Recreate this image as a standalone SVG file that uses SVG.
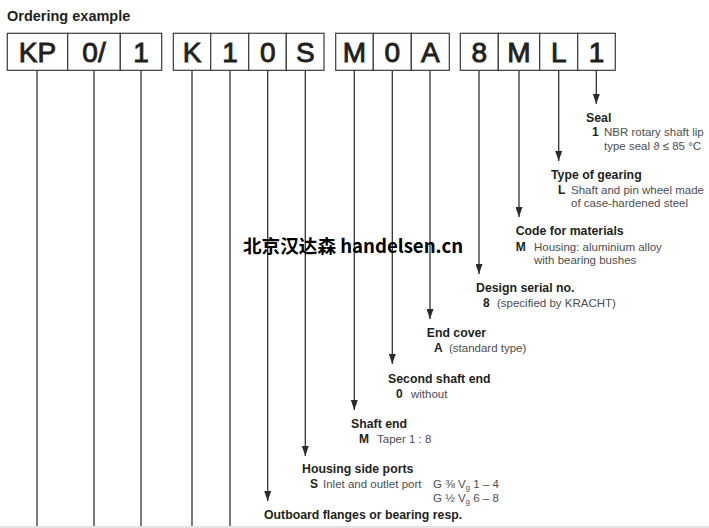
<svg xmlns="http://www.w3.org/2000/svg" width="709" height="528" viewBox="0 0 709 528">
<defs>
<marker id="arr" viewBox="0 0 10 7" refX="10" refY="3.5" markerWidth="10" markerHeight="7" markerUnits="userSpaceOnUse" orient="auto">
<path d="M0,0 L10,3.5 L0,7 Z" fill="#2b2b2b"/>
</marker>
<style>
.box{fill:#fff;stroke:#3a3a3a;stroke-width:1.2}
.bt{font-family:"Liberation Sans",Arial,sans-serif;font-size:28px;fill:#231f20;text-anchor:middle;stroke:#231f20;stroke-width:0.9}
.ln{stroke:#333;stroke-width:1.3;fill:none}
.h{font-family:"Liberation Sans",Arial,sans-serif;font-size:12.3px;font-weight:bold;fill:#231f20}
.c{font-family:"Liberation Sans",Arial,sans-serif;font-size:12px;font-weight:bold;fill:#231f20}
.d{font-family:"Liberation Sans",Arial,sans-serif;font-size:11.5px;fill:#4d4d4f}
</style>
</defs>
<rect width="709" height="528" fill="#fff"/>
<rect x="0" y="526" width="709" height="2" fill="#e2e2e2"/>
<text x="7" y="20.5" style="font-family:'Liberation Sans',Arial,sans-serif;font-size:14.5px;font-weight:bold;fill:#231f20">Ordering example</text>

<g id="connectors">
<line class="ln" x1="37" y1="70" x2="37" y2="526"/>
<line class="ln" x1="94" y1="70" x2="94" y2="526"/>
<line class="ln" x1="141" y1="70" x2="141" y2="526"/>
<line class="ln" x1="192" y1="70" x2="192" y2="526"/>
<line class="ln" x1="230" y1="70" x2="230" y2="526"/>
<line class="ln" x1="267.7" y1="70" x2="267.7" y2="501" marker-end="url(#arr)"/>
<line class="ln" x1="305.3" y1="70" x2="305.3" y2="456" marker-end="url(#arr)"/>
<line class="ln" x1="354.3" y1="70" x2="354.3" y2="410" marker-end="url(#arr)"/>
<line class="ln" x1="392.3" y1="70" x2="392.3" y2="364" marker-end="url(#arr)"/>
<line class="ln" x1="430" y1="70" x2="430" y2="319" marker-end="url(#arr)"/>
<line class="ln" x1="479" y1="70" x2="479" y2="274" marker-end="url(#arr)"/>
<line class="ln" x1="519" y1="70" x2="519" y2="217" marker-end="url(#arr)"/>
<line class="ln" x1="558.7" y1="70" x2="558.7" y2="161" marker-end="url(#arr)"/>
<line class="ln" x1="596.3" y1="70" x2="596.3" y2="104" marker-end="url(#arr)"/>
</g>

<g id="code-boxes">
<g id="grp1">
<rect class="box" x="7.3" y="33.3" width="60.4" height="37"/>
<rect class="box" x="67.7" y="33.3" width="52.6" height="37"/>
<rect class="box" x="120.3" y="33.3" width="41.4" height="37"/>
<text class="bt" x="37.5" y="62">KP</text>
<text class="bt" x="94" y="62">0/</text>
<text class="bt" x="141" y="62">1</text>
</g>
<g id="grp2">
<rect class="box" x="173.3" y="33.3" width="37.4" height="37"/>
<rect class="box" x="210.7" y="33.3" width="38" height="37"/>
<rect class="box" x="248.7" y="33.3" width="37.6" height="37"/>
<rect class="box" x="286.3" y="33.3" width="37.7" height="37"/>
<text class="bt" x="192" y="62">K</text>
<text class="bt" x="230" y="62">1</text>
<text class="bt" x="267.7" y="62">0</text>
<text class="bt" x="305.3" y="62">S</text>
</g>
<g id="grp3">
<rect class="box" x="335.7" y="33.3" width="37.6" height="37"/>
<rect class="box" x="373.3" y="33.3" width="38" height="37"/>
<rect class="box" x="411.3" y="33.3" width="38" height="37"/>
<text class="bt" x="354.5" y="62">M</text>
<text class="bt" x="392.3" y="62">0</text>
<text class="bt" x="430.3" y="62">A</text>
</g>
<g id="grp4">
<rect class="box" x="460.3" y="33.3" width="38" height="37"/>
<rect class="box" x="498.3" y="33.3" width="41.4" height="37"/>
<rect class="box" x="539.7" y="33.3" width="38" height="37"/>
<rect class="box" x="577.7" y="33.3" width="37.6" height="37"/>
<text class="bt" x="479.3" y="62">8</text>
<text class="bt" x="519" y="62">M</text>
<text class="bt" x="558.7" y="62">L</text>
<text class="bt" x="596.5" y="62">1</text>
</g>
</g>

<g id="seal">
<text class="h" x="586" y="122">Seal</text>
<text class="c" x="592" y="136">1</text>
<text class="d" x="604" y="136">NBR rotary shaft lip</text>
<text class="d" x="604" y="150">type seal ϑ ≤ 85 °C</text>
</g>
<g id="gearing">
<text class="h" x="551" y="179">Type of gearing</text>
<text class="c" x="558" y="193.5">L</text>
<text class="d" x="571" y="193.5">Shaft and pin wheel made</text>
<text class="d" x="571" y="207">of case-hardened steel</text>
</g>
<g id="materials">
<text class="h" x="515.7" y="235">Code for materials</text>
<text class="c" x="515.7" y="250.5">M</text>
<text class="d" x="534" y="250.5">Housing: aluminium alloy</text>
<text class="d" x="534" y="264">with bearing bushes</text>
</g>
<g id="serial">
<text class="h" x="476" y="292">Design serial no.</text>
<text class="c" x="483" y="307">8</text>
<text class="d" x="497" y="307">(specified by KRACHT)</text>
</g>
<g id="endcover">
<text class="h" x="426.7" y="337">End cover</text>
<text class="c" x="434" y="352">A</text>
<text class="d" x="449" y="352">(standard type)</text>
</g>
<g id="secondshaft">
<text class="h" x="388" y="382.5">Second shaft end</text>
<text class="c" x="396" y="397.5">0</text>
<text class="d" x="411" y="397.5">without</text>
</g>
<g id="shaftend">
<text class="h" x="351" y="428">Shaft end</text>
<text class="c" x="359" y="443">M</text>
<text class="d" x="377" y="443">Taper 1 : 8</text>
</g>
<g id="sideports">
<text class="h" x="302" y="473">Housing side ports</text>
<text class="c" x="310" y="487.5">S</text>
<text class="d" x="323" y="487.5">Inlet and outlet port</text>
<text class="d" x="433" y="487.5">G ⅜ V<tspan font-size="8" dy="2">g</tspan><tspan dy="-2"> 1 – 4</tspan></text>
<text class="d" x="433" y="502">G ½ V<tspan font-size="8" dy="2">g</tspan><tspan dy="-2"> 6 – 8</tspan></text>
</g>
<g id="outboard">
<text class="h" x="264" y="519">Outboard flanges or bearing resp.</text>
</g>

<text x="243" y="253" style="font-family:'Noto Sans CJK SC','Noto Sans',sans-serif;font-size:18.6px;font-weight:bold;fill:#000">北京汉达森 handelsen.cn</text>
</svg>
